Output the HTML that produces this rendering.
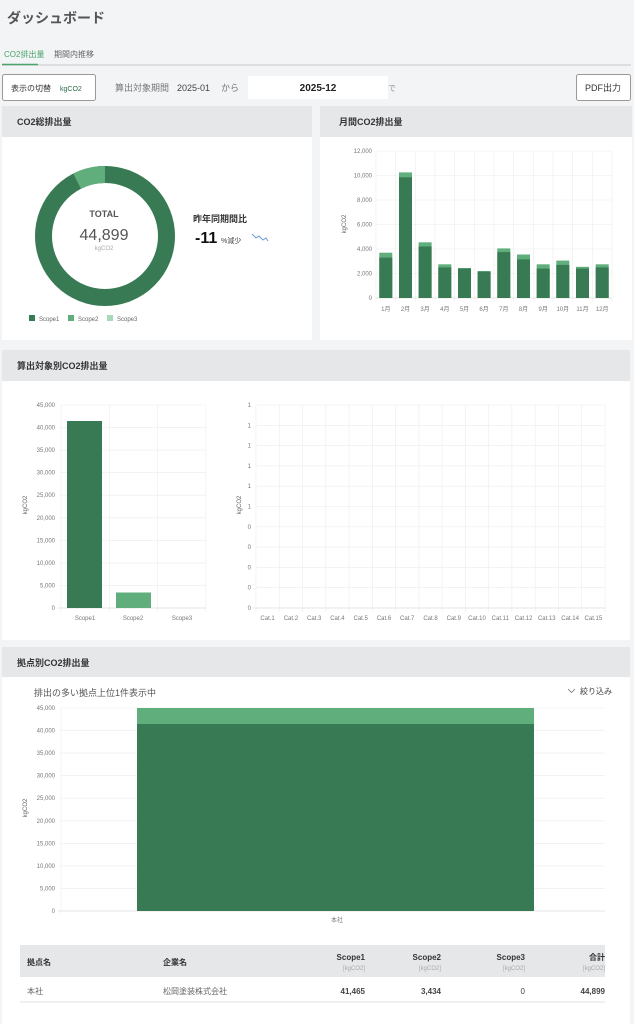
<!DOCTYPE html>
<html><head><meta charset="utf-8"><style>
body{margin:0;background:#f3f4f6;}
svg{display:block;font-family:"Liberation Sans","Noto Sans CJK JP",sans-serif;}
</style></head><body>
<svg width="634" height="1024" viewBox="0 0 634 1024" xmlns="http://www.w3.org/2000/svg">
<rect width="634" height="1024" fill="#f3f4f6"/>
<text x="7" y="23" font-size="14" font-weight="bold" fill="#555">ダッシュボード</text>
<text x="4" y="57" font-size="8" fill="#4aa36d">CO2排出量</text>
<text x="54" y="57" font-size="8" fill="#666">期間内推移</text>
<line x1="2" y1="65" x2="631" y2="65" stroke="#bbb" stroke-width="0.8"/>
<line x1="2" y1="64.5" x2="38" y2="64.5" stroke="#4aa36d" stroke-width="1.5"/>
<rect x="2.5" y="74.5" width="93" height="26" rx="2" fill="#fff" stroke="#999"/>
<text x="11" y="91" font-size="8" fill="#333">表示の切替</text>
<text x="60" y="91" font-size="7" fill="#2c6b45">kgCO2</text>
<text x="115" y="91" font-size="9" fill="#777">算出対象期間</text>
<text x="177" y="91" font-size="9" fill="#444">2025-01</text>
<text x="221" y="91" font-size="9" fill="#777">から</text>
<rect x="248" y="76" width="140" height="23" fill="#fff"/>
<text x="318" y="91" font-size="10" font-weight="bold" fill="#222" text-anchor="middle">2025-12</text>
<text x="388" y="91" font-size="8" fill="#999">で</text>
<rect x="576.5" y="74.5" width="54" height="26" rx="2" fill="#fff" stroke="#999"/>
<text x="603" y="91" font-size="9" fill="#333" text-anchor="middle">PDF出力</text>

<!-- panel 1 -->
<rect x="2" y="106" width="310" height="234" fill="#fff"/>
<rect x="2" y="106" width="310" height="31" fill="#e6e7e9"/>
<text x="17" y="125" font-size="9" font-weight="bold" fill="#333">CO2総排出量</text>
<circle cx="105" cy="236" r="61.5" fill="none" stroke="#387a53" stroke-width="17"/>
<path d="M77.1,181.2 A61.5 61.5 0 0 1 105 174.5" fill="none" stroke="#5fae7c" stroke-width="17"/>
<text x="104" y="217" font-size="9" font-weight="bold" fill="#555" text-anchor="middle">TOTAL</text>
<text x="104" y="240" font-size="16" fill="#555" text-anchor="middle">44,899</text>
<text x="104" y="250" font-size="6" fill="#aaa" text-anchor="middle">kgCO2</text>
<text x="193" y="222" font-size="9" font-weight="bold" fill="#333">昨年同期間比</text>
<text x="195" y="243" font-size="16" font-weight="bold" fill="#111">-11</text>
<text x="221" y="243" font-size="7" fill="#444">%減少</text>
<path d="M252,234 l4,4 l3,-2 l4,4 l3,-2 l2,3" fill="none" stroke="#6a9bd6" stroke-width="1"/>
<rect x="29" y="315" width="6" height="6" fill="#387a53"/>
<text x="39" y="321" font-size="6" fill="#666">Scope1</text>
<rect x="68" y="315" width="6" height="6" fill="#5fae7c"/>
<text x="78" y="321" font-size="6" fill="#666">Scope2</text>
<rect x="107" y="315" width="6" height="6" fill="#a9d8b8"/>
<text x="117" y="321" font-size="6" fill="#666">Scope3</text>

<!-- panel 2 -->
<rect x="320" y="106" width="312" height="234" fill="#fff"/>
<rect x="320" y="106" width="312" height="31" fill="#e6e7e9"/>
<text x="339" y="125" font-size="9" font-weight="bold" fill="#333">月間CO2排出量</text>
<g stroke="#ececec" stroke-width="0.6">
<line x1="376" y1="151" x2="612" y2="151"/><line x1="376" y1="175.5" x2="612" y2="175.5"/><line x1="376" y1="200" x2="612" y2="200"/><line x1="376" y1="224.5" x2="612" y2="224.5"/><line x1="376" y1="249" x2="612" y2="249"/><line x1="376" y1="273.5" x2="612" y2="273.5"/>
<line x1="376" y1="151" x2="376" y2="302"/><line x1="395.7" y1="151" x2="395.7" y2="302"/><line x1="415.3" y1="151" x2="415.3" y2="302"/><line x1="435" y1="151" x2="435" y2="302"/><line x1="454.7" y1="151" x2="454.7" y2="302"/><line x1="474.3" y1="151" x2="474.3" y2="302"/><line x1="494" y1="151" x2="494" y2="302"/><line x1="513.7" y1="151" x2="513.7" y2="302"/><line x1="533.3" y1="151" x2="533.3" y2="302"/><line x1="553" y1="151" x2="553" y2="302"/><line x1="572.7" y1="151" x2="572.7" y2="302"/><line x1="592.3" y1="151" x2="592.3" y2="302"/><line x1="612" y1="151" x2="612" y2="302"/>
</g>
<line x1="376" y1="298" x2="612" y2="298" stroke="#ddd" stroke-width="0.8"/>
<g font-size="6" fill="#777" text-anchor="end">
<text x="372" y="153">12,000</text><text x="372" y="177.5">10,000</text><text x="372" y="202">8,000</text><text x="372" y="226.5">6,000</text><text x="372" y="251">4,000</text><text x="372" y="275.5">2,000</text><text x="372" y="300">0</text>
</g>
<text transform="translate(346,224) rotate(-90)" font-size="6" fill="#666" text-anchor="middle">kgCO2</text>
<g fill="#5fae7c">
<rect x="379.3" y="252.7" width="13" height="45.3"/><rect x="399" y="172.4" width="13" height="125.6"/><rect x="418.6" y="242.3" width="13" height="55.7"/><rect x="438.3" y="264.3" width="13" height="33.7"/><rect x="458" y="268" width="13" height="30"/><rect x="477.6" y="271" width="13" height="27"/><rect x="497.3" y="248.4" width="13" height="49.6"/><rect x="517" y="254.5" width="13" height="43.5"/><rect x="536.7" y="264.3" width="13" height="33.7"/><rect x="556.3" y="260.6" width="13" height="37.4"/><rect x="576" y="266.8" width="13" height="31.2"/><rect x="595.7" y="264.3" width="13" height="33.7"/>
</g>
<g fill="#387a53">
<rect x="379.3" y="257.6" width="13" height="40.4"/><rect x="399" y="177.3" width="13" height="120.7"/><rect x="418.6" y="246.5" width="13" height="51.5"/><rect x="438.3" y="267.4" width="13" height="30.6"/><rect x="458" y="268.6" width="13" height="29.4"/><rect x="477.6" y="271.7" width="13" height="26.3"/><rect x="497.3" y="252.1" width="13" height="45.9"/><rect x="517" y="259.4" width="13" height="38.6"/><rect x="536.7" y="268.6" width="13" height="29.4"/><rect x="556.3" y="264.9" width="13" height="33.1"/><rect x="576" y="268.6" width="13" height="29.4"/><rect x="595.7" y="267.4" width="13" height="30.6"/>
</g>
<g font-size="6" fill="#777" text-anchor="middle">
<text x="385.8" y="311">1月</text><text x="405.5" y="311">2月</text><text x="425.1" y="311">3月</text><text x="444.8" y="311">4月</text><text x="464.5" y="311">5月</text><text x="484.1" y="311">6月</text><text x="503.8" y="311">7月</text><text x="523.5" y="311">8月</text><text x="543.2" y="311">9月</text><text x="562.8" y="311">10月</text><text x="582.5" y="311">11月</text><text x="602.2" y="311">12月</text>
</g>

<!-- panel 3 -->
<rect x="2" y="350" width="628" height="290" fill="#fff"/>
<rect x="2" y="350" width="628" height="31" fill="#e6e7e9"/>
<text x="17" y="369" font-size="9" font-weight="bold" fill="#333">算出対象別CO2排出量</text>
<g stroke="#ececec" stroke-width="0.6">
<line x1="61" y1="405" x2="206" y2="405"/><line x1="61" y1="427.6" x2="206" y2="427.6"/><line x1="61" y1="450.1" x2="206" y2="450.1"/><line x1="61" y1="472.7" x2="206" y2="472.7"/><line x1="61" y1="495.2" x2="206" y2="495.2"/><line x1="61" y1="517.8" x2="206" y2="517.8"/><line x1="61" y1="540.3" x2="206" y2="540.3"/><line x1="61" y1="562.9" x2="206" y2="562.9"/><line x1="61" y1="585.4" x2="206" y2="585.4"/>
<line x1="61" y1="405" x2="61" y2="612"/><line x1="109.3" y1="405" x2="109.3" y2="612"/><line x1="157.7" y1="405" x2="157.7" y2="612"/><line x1="206" y1="405" x2="206" y2="612"/>
</g>
<line x1="58" y1="608" x2="206" y2="608" stroke="#ddd" stroke-width="0.8"/>
<g font-size="6" fill="#777" text-anchor="end">
<text x="55" y="407">45,000</text><text x="55" y="429.6">40,000</text><text x="55" y="452.1">35,000</text><text x="55" y="474.7">30,000</text><text x="55" y="497.2">25,000</text><text x="55" y="519.8">20,000</text><text x="55" y="542.3">15,000</text><text x="55" y="564.9">10,000</text><text x="55" y="587.4">5,000</text><text x="55" y="610">0</text>
</g>
<text transform="translate(27,505) rotate(-90)" font-size="6" fill="#666" text-anchor="middle">kgCO2</text>
<rect x="67" y="421" width="35" height="187" fill="#387a53"/>
<rect x="116" y="592.5" width="35" height="15.5" fill="#5fae7c"/>
<g font-size="6" fill="#777" text-anchor="middle"><text x="85" y="620">Scope1</text><text x="133" y="620">Scope2</text><text x="182" y="620">Scope3</text></g>

<g stroke="#ececec" stroke-width="0.6">
<line x1="256" y1="405" x2="605" y2="405"/><line x1="256" y1="425.3" x2="605" y2="425.3"/><line x1="256" y1="445.6" x2="605" y2="445.6"/><line x1="256" y1="465.9" x2="605" y2="465.9"/><line x1="256" y1="486.2" x2="605" y2="486.2"/><line x1="256" y1="506.5" x2="605" y2="506.5"/><line x1="256" y1="526.8" x2="605" y2="526.8"/><line x1="256" y1="547.1" x2="605" y2="547.1"/><line x1="256" y1="567.4" x2="605" y2="567.4"/><line x1="256" y1="587.7" x2="605" y2="587.7"/>
<line x1="256" y1="405" x2="256" y2="612"/><line x1="279.3" y1="405" x2="279.3" y2="612"/><line x1="302.5" y1="405" x2="302.5" y2="612"/><line x1="325.8" y1="405" x2="325.8" y2="612"/><line x1="349.1" y1="405" x2="349.1" y2="612"/><line x1="372.3" y1="405" x2="372.3" y2="612"/><line x1="395.6" y1="405" x2="395.6" y2="612"/><line x1="418.9" y1="405" x2="418.9" y2="612"/><line x1="442.1" y1="405" x2="442.1" y2="612"/><line x1="465.4" y1="405" x2="465.4" y2="612"/><line x1="488.7" y1="405" x2="488.7" y2="612"/><line x1="511.9" y1="405" x2="511.9" y2="612"/><line x1="535.2" y1="405" x2="535.2" y2="612"/><line x1="558.5" y1="405" x2="558.5" y2="612"/><line x1="581.7" y1="405" x2="581.7" y2="612"/><line x1="605" y1="405" x2="605" y2="612"/>
</g>
<line x1="253" y1="608" x2="605" y2="608" stroke="#ddd" stroke-width="0.8"/>
<g font-size="6" fill="#777" text-anchor="end">
<text x="251" y="407">1</text><text x="251" y="427.3">1</text><text x="251" y="447.6">1</text><text x="251" y="467.9">1</text><text x="251" y="488.2">1</text><text x="251" y="508.5">1</text><text x="251" y="528.8">0</text><text x="251" y="549.1">0</text><text x="251" y="569.4">0</text><text x="251" y="589.7">0</text><text x="251" y="610">0</text>
</g>
<text transform="translate(241,505) rotate(-90)" font-size="6" fill="#666" text-anchor="middle">kgCO2</text>
<g font-size="6" fill="#777" text-anchor="middle">
<text x="267.6" y="620">Cat.1</text><text x="290.9" y="620">Cat.2</text><text x="314.2" y="620">Cat.3</text><text x="337.4" y="620">Cat.4</text><text x="360.7" y="620">Cat.5</text><text x="384" y="620">Cat.6</text><text x="407.2" y="620">Cat.7</text><text x="430.5" y="620">Cat.8</text><text x="453.8" y="620">Cat.9</text><text x="477" y="620">Cat.10</text><text x="500.3" y="620">Cat.11</text><text x="523.6" y="620">Cat.12</text><text x="546.8" y="620">Cat.13</text><text x="570.1" y="620">Cat.14</text><text x="593.4" y="620">Cat.15</text>
</g>

<!-- panel 4 -->
<rect x="2" y="647" width="628" height="377" fill="#fff"/>
<rect x="2" y="647" width="628" height="30" fill="#e6e7e9"/>
<text x="17" y="666" font-size="9" font-weight="bold" fill="#333">拠点別CO2排出量</text>
<text x="34" y="696" font-size="9" fill="#555">排出の多い拠点上位1件表示中</text>
<path d="M568,689 l3.5,3.5 l3.5,-3.5" fill="none" stroke="#777" stroke-width="0.8"/>
<text x="612" y="694" font-size="8" fill="#444" text-anchor="end">絞り込み</text>
<g stroke="#ececec" stroke-width="0.6">
<line x1="61" y1="708" x2="605" y2="708"/><line x1="61" y1="730.6" x2="605" y2="730.6"/><line x1="61" y1="753.1" x2="605" y2="753.1"/><line x1="61" y1="775.7" x2="605" y2="775.7"/><line x1="61" y1="798.2" x2="605" y2="798.2"/><line x1="61" y1="820.8" x2="605" y2="820.8"/><line x1="61" y1="843.3" x2="605" y2="843.3"/><line x1="61" y1="865.9" x2="605" y2="865.9"/><line x1="61" y1="888.4" x2="605" y2="888.4"/>
<line x1="61" y1="708" x2="61" y2="914"/>
</g>
<line x1="58" y1="911" x2="605" y2="911" stroke="#ddd" stroke-width="0.8"/>
<g font-size="6" fill="#777" text-anchor="end">
<text x="55" y="710">45,000</text><text x="55" y="732.6">40,000</text><text x="55" y="755.1">35,000</text><text x="55" y="777.7">30,000</text><text x="55" y="800.2">25,000</text><text x="55" y="822.8">20,000</text><text x="55" y="845.3">15,000</text><text x="55" y="867.9">10,000</text><text x="55" y="890.4">5,000</text><text x="55" y="913">0</text>
</g>
<text transform="translate(27,808) rotate(-90)" font-size="6" fill="#666" text-anchor="middle">kgCO2</text>
<rect x="137" y="708" width="397" height="16" fill="#5fae7c"/>
<rect x="137" y="724" width="397" height="187" fill="#387a53"/>
<text x="337" y="922" font-size="6" fill="#777" text-anchor="middle">本社</text>

<rect x="20" y="945" width="585" height="32" fill="#e6e7e9"/>
<g font-size="8" font-weight="bold" fill="#333">
<text x="27" y="965">拠点名</text><text x="163" y="965">企業名</text>
<text x="365" y="960" text-anchor="end">Scope1</text><text x="441" y="960" text-anchor="end">Scope2</text><text x="525" y="960" text-anchor="end">Scope3</text><text x="605" y="960" text-anchor="end">合計</text>
</g>
<g font-size="6" fill="#aaa" text-anchor="end">
<text x="365" y="970">[kgCO2]</text><text x="441" y="970">[kgCO2]</text><text x="525" y="970">[kgCO2]</text><text x="605" y="970">[kgCO2]</text>
</g>
<g font-size="8" fill="#666"><text x="27" y="994">本社</text><text x="163" y="994">松岡塗装株式会社</text></g>
<g font-size="8" font-weight="bold" fill="#444" text-anchor="end">
<text x="365" y="994">41,465</text><text x="441" y="994">3,434</text><text x="525" y="994" font-weight="normal">0</text><text x="605" y="994">44,899</text>
</g>
<line x1="20" y1="1002" x2="605" y2="1002" stroke="#e0e0e0" stroke-width="1"/>
</svg>
</body></html>
